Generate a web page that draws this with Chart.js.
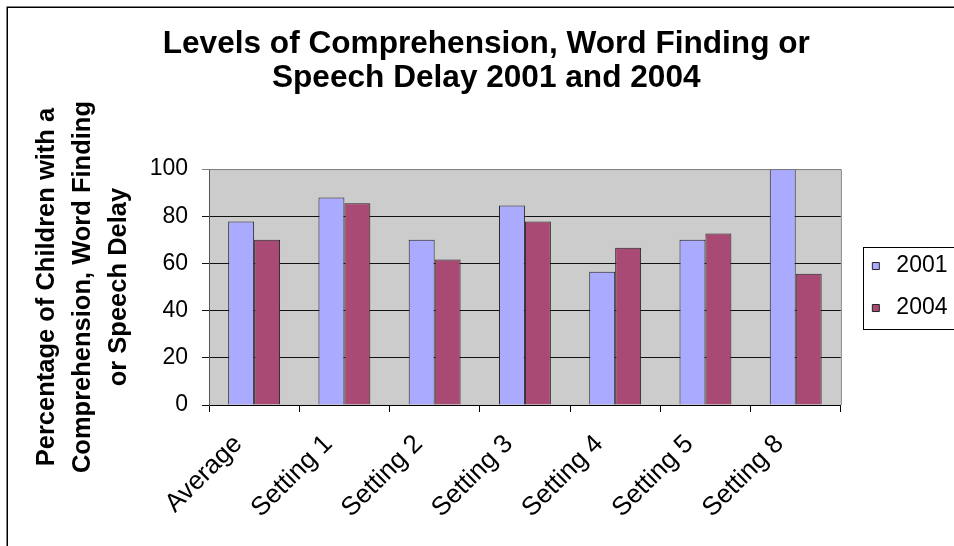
<!DOCTYPE html>
<html>
<head>
<meta charset="utf-8">
<script src="https://cdn.jsdelivr.net/npm/chart.js@4"></script>
<style>
	html, body { margin: 0; padding: 0; background: #fff; }
	#wrap { width: 954px; height: 546px; }
</style>
</head>
<body>
<div id="wrap"><canvas id="chart" width="954" height="546"></canvas></div>
<script>
const Categories = [ "Average", "Setting 1", "Setting 2", "Setting 3", "Setting 4", "Setting 5", "Setting 8" ];
const Values2001 = [ 77.8, 88, 70, 84.6, 56.5, 70, 100 ];
const Values2004 = [ 70, 85.5, 61.7, 77.8, 66.7, 72.7, 55.6 ];
const YTicks = [ 0, 20, 40, 60, 80, 100 ];

const FontFamily = "'Liberation Sans', Arial, sans-serif";
Chart.defaults.color = "#000";
Chart.defaults.font.family = FontFamily;

// grey plot area, frame round the whole chart and box round the legend
const excelFrame = {
	id: "excelFrame",
	afterLayout(chart)
	{
		// legend sits a little away from the plot area
		const lg = chart.legend;
		lg.left += 7;
		lg.right += 7;
	},
	beforeDraw(chart)
	{
		const { ctx, chartArea: { left, top, width, height } } = chart;
		ctx.save();
		ctx.fillStyle = "#fff";
		ctx.fillRect(0, 0, chart.width, chart.height);
		ctx.fillStyle = "#cccccc";
		ctx.fillRect(left, top, width, height);
		ctx.restore();
	},
	afterDraw(chart)
	{
		const { ctx, chartArea: { left, top, right, bottom } } = chart;
		ctx.save();
		ctx.strokeStyle = "#808080";
		ctx.lineWidth = 1;
		ctx.beginPath();
		ctx.moveTo(left, top + 0.5);
		ctx.lineTo(right + 0.5, top + 0.5);
		ctx.lineTo(right + 0.5, bottom);
		ctx.stroke();

		const hb = chart.legend.legendHitBoxes;
		if (hb && hb.length)
		{
			const last = hb[hb.length - 1];
			const x = Math.round(hb[0].left - 4) + 0.5;
			const y = Math.round(hb[0].top - 8) + 0.5;
			const y2 = Math.round(last.top + last.height + 9) + 0.5;
			ctx.strokeStyle = "#000";
			ctx.strokeRect(x, y, chart.width, y2 - y);
		}

		ctx.lineWidth = 1.5;
		ctx.strokeStyle = "#000";
		ctx.strokeRect(7.25, 7.25, chart.width + 20, chart.height + 20);
		ctx.restore();
	}
};

new Chart(document.getElementById("chart"), {
	type: "bar",
	data: {
		labels: Categories,
		datasets: [{
			label: "2001",
			data: Values2001,
			backgroundColor: "#aaaaff",
			borderColor: "#222",
			borderWidth: 1,
		},
		{
			label: "2004",
			data: Values2004,
			backgroundColor: "#a94a74",
			borderColor: "#222",
			borderWidth: 1,
		}]
	},
	options: {
		responsive: false,
		animation: false,
		layout: {
			padding: { left: 22, right: 3.5, top: 0, bottom: 0 }
		},
		datasets: {
			bar: {
				categoryPercentage: 0.575,
				barPercentage: 1.0,
			}
		},
		plugins: {
			title: {
				display: true,
				text: [ "Levels of Comprehension, Word Finding or", "Speech Delay 2001 and 2004" ],
				color: "#000",
				font: { size: 31.6, weight: "bold", lineHeight: 1.055 },
				padding: { top: 28, bottom: 74.4 },
			},
			legend: {
				position: "right",
				fullSize: false,
				labels: {
					usePointStyle: true,
					pointStyle: "rect",
					boxWidth: 18,
					boxHeight: 7,
					padding: 19,
					color: "#000",
					font: { size: 23 },
				}
			},
			tooltip: { enabled: false },
		},
		scales: {
			x: {
				offset: true,
				grid: {
					offset: true,
					drawOnChartArea: false,
					drawTicks: true,
					tickLength: 7,
					color: "#000",
				},
				border: { color: "#000", width: 1 },
				ticks: {
					minRotation: 45,
					maxRotation: 45,
					autoSkip: false,
					padding: 17,
					labelOffset: -16,
					font: { size: 26 },
				},
				afterFit(scale)
				{
					scale.height = 141;
				}
			},
			y: {
				min: 0,
				max: 100,
				afterBuildTicks(scale)
				{
					scale.ticks = YTicks.map(v => ({ value: v }));
				},
				grid: {
					color: ctx => ctx.tick && ctx.tick.value == 100 ? "#808080" : "#111",
					tickLength: 7,
					lineWidth: 1,
				},
				border: { color: "#555", width: 1 },
				ticks: {
					padding: 14,
					font: { size: 23 },
				},
				title: {
					display: true,
					text: [ "Percentage of Children with a", "Comprehension, Word Finding", "or Speech Delay" ],
					color: "#000",
					font: { size: 25.5, weight: "bold", lineHeight: 1.41 },
					padding: { top: 7, bottom: 0 },
				},
				afterFit(scale)
				{
					scale.width = 187;
				}
			}
		}
	},
	plugins: [ excelFrame ],
});
</script>
</body>
</html>
